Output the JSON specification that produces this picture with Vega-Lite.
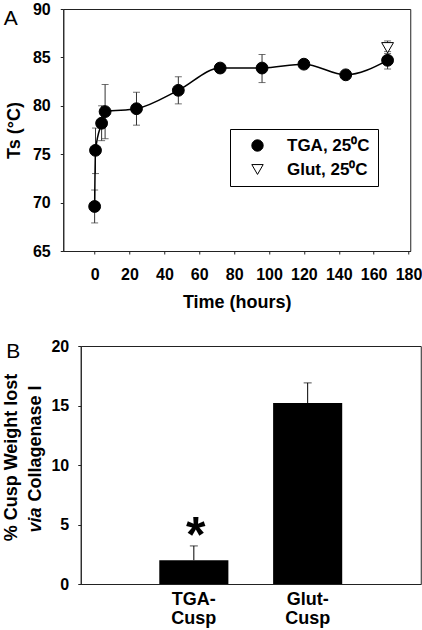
{
  "$schema": "https://vega.github.io/schema/vega-lite/v6.json",
  "padding": {"left": 2, "top": 0, "right": -16, "bottom": 0},
  "background": "white",
  "spacing": 25,
  "center": true,
  "config": {
    "font": "Liberation Sans",
    "view": {"stroke": "#222", "strokeWidth": 1},
    "axis": {
      "grid": false,
      "domainColor": "#222",
      "tickColor": "#222",
      "labelColor": "black",
      "titleColor": "black",
      "labelFont": "Liberation Sans",
      "titleFont": "Liberation Sans",
      "labelFontWeight": "bold",
      "titleFontWeight": "bold",
      "labelFontSize": 16,
      "titleFontSize": 18
    }
  },
  "datasets": {
    "a": [
      {"series": "TGA, 25⁰C", "time": 0, "ts": 69.6, "lo": 67.9, "hi": 71.3},
      {"series": "TGA, 25⁰C", "time": 0.5, "ts": 75.4, "lo": 73.0, "hi": 77.7},
      {"series": "TGA, 25⁰C", "time": 4, "ts": 78.2, "lo": 76.4, "hi": 80.0},
      {"series": "TGA, 25⁰C", "time": 6, "ts": 79.4, "lo": 76.6, "hi": 82.2},
      {"series": "TGA, 25⁰C", "time": 24, "ts": 79.7, "lo": 78.0, "hi": 81.4},
      {"series": "TGA, 25⁰C", "time": 48, "ts": 81.6, "lo": 80.2, "hi": 83.0},
      {"series": "TGA, 25⁰C", "time": 72, "ts": 83.9, "lo": 83.5, "hi": 84.3},
      {"series": "TGA, 25⁰C", "time": 96, "ts": 83.9, "lo": 82.4, "hi": 85.3},
      {"series": "TGA, 25⁰C", "time": 120, "ts": 84.3, "lo": 83.9, "hi": 84.7},
      {"series": "TGA, 25⁰C", "time": 144, "ts": 83.2, "lo": 82.9, "hi": 83.5},
      {"series": "TGA, 25⁰C", "time": 168, "ts": 84.7, "lo": 83.8, "hi": 85.6},
      {"series": "Glut, 25⁰C", "time": 168, "ts": 86.0, "lo": 85.4, "hi": 86.7}
    ],
    "b": [
      {"group": "TGA-Cusp", "loss": 2.0, "hi": 3.2, "sig": "*"},
      {"group": "Glut-Cusp", "loss": 15.2, "hi": 16.9, "sig": ""}
    ]
  },
  "vconcat": [
    {
      "width": 347,
      "height": 242,
      "data": {"name": "a"},
      "resolve": {"axis": {"x": "independent", "y": "independent"}},
      "layer": [
        {
          "mark": {"type": "rule", "color": "#333", "strokeWidth": 1},
          "encoding": {
            "x": {"field": "time", "type": "quantitative",
              "scale": {"domain": [-18, 181], "nice": false, "zero": false},
              "axis": {"title": "Time (hours)", "values": [0, 20, 40, 60, 80, 100, 120, 140, 160, 180], "tickSize": 3, "labelPadding": 12, "titlePadding": 11}},
            "y": {"field": "lo", "type": "quantitative",
              "scale": {"domain": [65, 90], "nice": false, "zero": false},
              "axis": {"orient": "left", "title": "Ts (°C)", "values": [65, 70, 75, 80, 85, 90], "tickSize": 3, "labelPadding": 10, "titlePadding": 9}},
            "y2": {"field": "hi"}
          }
        },
        {
          "mark": {"type": "tick", "orient": "horizontal", "color": "#333", "size": 7, "thickness": 1},
          "encoding": {
            "x": {"field": "time", "type": "quantitative", "axis": null},
            "y": {"field": "lo", "type": "quantitative", "axis": null}
          }
        },
        {
          "mark": {"type": "tick", "orient": "horizontal", "color": "#333", "size": 7, "thickness": 1},
          "encoding": {
            "x": {"field": "time", "type": "quantitative", "axis": null},
            "y": {"field": "hi", "type": "quantitative", "axis": null}
          }
        },
        {
          "transform": [{"filter": "datum.series == 'TGA, 25⁰C'"}],
          "mark": {"type": "line", "color": "black", "strokeWidth": 1.5, "interpolate": "monotone"},
          "encoding": {
            "x": {"field": "time", "type": "quantitative", "axis": null},
            "y": {"field": "ts", "type": "quantitative",
              "axis": {"orient": "right", "offset": 28, "title": null, "labels": false, "ticks": false, "domain": true, "domainOpacity": 0}}
          }
        },
        {
          "mark": {"type": "point", "filled": true, "stroke": "black", "strokeWidth": 1, "opacity": 1, "size": 140},
          "encoding": {
            "x": {"field": "time", "type": "quantitative",
              "axis": {"orient": "top", "title": "A", "labels": false, "ticks": false, "domain": false,
                "titleX": -60, "titleY": 15, "titleAngle": 0, "titleAlign": "left", "titleBaseline": "alphabetic",
                "titleFontSize": 21, "titleFontWeight": "normal"}},
            "y": {"field": "ts", "type": "quantitative", "axis": null},
            "shape": {"field": "series", "type": "nominal",
              "scale": {"domain": ["TGA, 25⁰C", "Glut, 25⁰C"], "range": ["circle", "triangle-down"]},
              "legend": {"title": null, "orient": "none", "legendX": 167, "legendY": 120, "strokeColor": "black", "fillColor": "white", "padding": 8, "symbolOffset": 11, "labelOffset": 21, "labelFontSize": 17, "labelFontWeight": "bold", "labelFont": "Liberation Sans", "labelColor": "black", "rowPadding": 6, "symbolSize": 130, "symbolStrokeColor": "black", "symbolStrokeWidth": 1,
                "encoding": {"symbols": {"fill": {"condition": {"test": "datum.value == 'TGA, 25⁰C'", "value": "black"}, "value": "white"}, "stroke": {"value": "black"}, "strokeWidth": {"value": 1}}}}},
            "fill": {"field": "series", "type": "nominal",
              "scale": {"domain": ["TGA, 25⁰C", "Glut, 25⁰C"], "range": ["black", "white"]},
              "legend": null}
          }
        }
      ]
    },
    {
      "width": 340,
      "height": 238,
      "data": {"name": "b"},
      "resolve": {"axis": {"x": "independent", "y": "independent"}},
      "layer": [
        {
          "mark": {"type": "bar", "color": "black"},
          "encoding": {
            "x": {"field": "group", "type": "nominal", "sort": null,
              "scale": {"paddingInner": 0.393, "paddingOuter": 0.69},
              "axis": {"title": null, "labelAngle": 0, "ticks": false, "labelPadding": 6, "labelFontSize": 18, "labelLineHeight": 19,
                "labelExpr": "[replace(datum.value, 'Cusp', ''), 'Cusp']"}},
            "y": {"field": "loss", "type": "quantitative",
              "scale": {"domain": [0, 20], "nice": false},
              "axis": {"orient": "left", "title": "% Cusp Weight lost", "values": [0, 5, 10, 15, 20], "tickSize": 3, "labelPadding": 9,
                "titleX": -64, "titleY": 111, "titleAngle": -90, "titleAlign": "center", "titleBaseline": "alphabetic"}}
          }
        },
        {
          "mark": {"type": "rule", "color": "black", "strokeWidth": 1},
          "encoding": {
            "x": {"field": "group", "type": "nominal", "sort": null, "axis": null},
            "y": {"field": "loss", "type": "quantitative",
              "axis": {"orient": "left", "title": "via", "labels": false, "ticks": false, "domain": false,
                "titleX": -40, "titleY": 186, "titleAngle": -90, "titleAlign": "left", "titleBaseline": "alphabetic", "titleFontStyle": "italic"}},
            "y2": {"field": "hi"}
          }
        },
        {
          "mark": {"type": "tick", "orient": "horizontal", "color": "black", "size": 8, "thickness": 1},
          "encoding": {
            "x": {"field": "group", "type": "nominal", "sort": null, "axis": null},
            "y": {"field": "hi", "type": "quantitative",
              "axis": {"orient": "left", "title": "Collagenase I", "labels": false, "ticks": false, "domain": false,
                "titleX": -40, "titleY": 155, "titleAngle": -90, "titleAlign": "left", "titleBaseline": "alphabetic"}}
          }
        },
        {
          "transform": [{"filter": "datum.sig != ''"}],
          "mark": {"type": "text", "fontSize": 50, "fontWeight": "bold", "baseline": "alphabetic", "dy": 6, "dx": 2, "color": "black"},
          "encoding": {
            "x": {"field": "group", "type": "nominal", "sort": null,
              "axis": {"orient": "top", "title": "B", "labels": false, "ticks": false, "domain": false,
                "titleX": -75, "titleY": 11, "titleAngle": 0, "titleAlign": "left", "titleBaseline": "alphabetic",
                "titleFontSize": 21, "titleFontWeight": "normal"}},
            "y": {"field": "hi", "type": "quantitative", "axis": null},
            "text": {"field": "sig"}
          }
        }
      ]
    }
  ]
}
